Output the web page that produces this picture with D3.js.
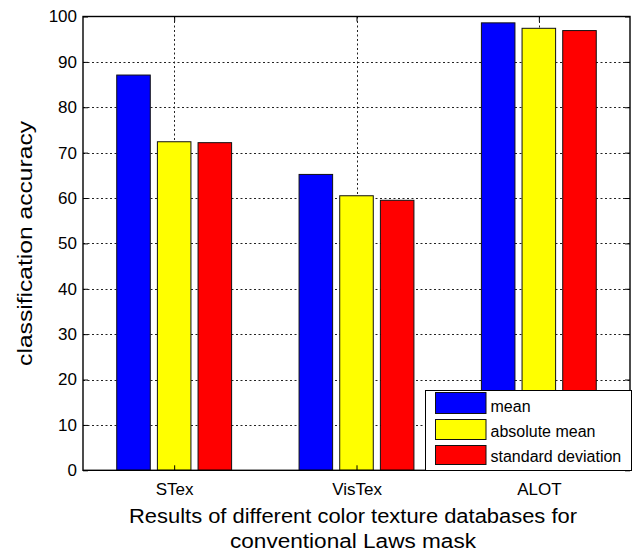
<!DOCTYPE html>
<html><head><meta charset="utf-8">
<script src="https://cdn.jsdelivr.net/npm/d3@7"></script>
<style>body{margin:0;background:#fff}svg{display:block}text{font-family:"Liberation Sans",Arial,Helvetica,sans-serif;fill:#000}</style>
</head><body><svg id="c" width="634" height="554"></svg>
<script>
const categories = ["STex", "VisTex", "ALOT"];
const seriesNames = ["mean", "absolute mean", "standard deviation"];
const seriesColors = ["#0000ff", "#ffff00", "#ff0000"];
const meanValues = [87.1, 65.2, 98.6];
const absMeanValues = [72.4, 60.5, 97.4];
const stdValues = [72.2, 59.5, 96.9];
const yTicks = [0, 10, 20, 30, 40, 50, 60, 70, 80, 90, 100];
const xTitle = ["Results of different color texture databases for", "conventional Laws mask"];
const yTitle = "classification accuracy";

const series = [meanValues, absMeanValues, stdValues];
const svg = d3.select("#c");
const L = 83, R = 630, T = 16.5, B = 470.3;
const x = d3.scaleLinear().domain([0.5, 3.5]).range([L, R]);
const y = d3.scaleLinear().domain([0, 100]).range([B, T]);
const unit = x(1) - x(0);
const bw = unit * 0.184, step = unit * 0.223;

// grid
const g = svg.append("g");
g.selectAll(".gy").data(yTicks.filter(d => d > 0 && d < 100)).join("line")
  .attr("x1", L).attr("x2", R).attr("y1", d => Math.round(y(d)) + 0.5).attr("y2", d => Math.round(y(d)) + 0.5)
  .attr("stroke", "#222").attr("stroke-width", 1).attr("stroke-dasharray", "2,2.5");
g.selectAll(".gx").data(categories).join("line")
  .attr("x1", (d, i) => Math.round(x(i + 1)) + 0.5).attr("x2", (d, i) => Math.round(x(i + 1)) + 0.5).attr("y1", T).attr("y2", B)
  .attr("stroke", "#222").attr("stroke-width", 1).attr("stroke-dasharray", "2,2.5");

// bars
series.forEach((vals, s) => {
  svg.append("g").selectAll("rect").data(vals).join("rect")
    .attr("x", (d, i) => x(i + 1) + (s - 1) * step - bw / 2)
    .attr("width", bw)
    .attr("y", d => y(d))
    .attr("height", d => y(0) - y(d))
    .attr("fill", seriesColors[s]).attr("stroke", "#111").attr("stroke-width", 1);
});

// axes box
svg.append("rect").attr("x", L).attr("y", T).attr("width", R - L).attr("height", B - T)
  .attr("fill", "none").attr("stroke", "#000").attr("stroke-width", 1.4);

const yAxis = d3.axisLeft(y).tickValues(yTicks).tickSize(-5).tickPadding(6).tickFormat(d3.format("d"));
const ya = svg.append("g").attr("transform", `translate(${L},0)`).call(yAxis);
ya.select(".domain").remove();
ya.selectAll("text").attr("font-size", 17);
const yr = svg.append("g").attr("transform", `translate(${R},0)`).call(d3.axisRight(y).tickValues(yTicks).tickSize(-5).tickFormat(""));
yr.select(".domain").remove();

const xAxis = d3.axisBottom(x).tickValues([1, 2, 3]).tickSize(-5).tickPadding(12.5).tickFormat((d) => categories[d - 1]);
const xa = svg.append("g").attr("transform", `translate(0,${B})`).call(xAxis);
xa.select(".domain").remove();
xa.selectAll("text").attr("font-size", 17);
const xt = svg.append("g").attr("transform", `translate(0,${T})`).call(d3.axisTop(x).tickValues([1, 2, 3]).tickSize(-5).tickFormat(""));
xt.select(".domain").remove();

// titles
svg.append("text").attr("x", 353).attr("y", 522.5).attr("text-anchor", "middle").attr("font-size", 20)
  .attr("textLength", 448).attr("lengthAdjust", "spacingAndGlyphs").text(xTitle[0]);
svg.append("text").attr("x", 353).attr("y", 548).attr("text-anchor", "middle").attr("font-size", 20)
  .attr("textLength", 246).attr("lengthAdjust", "spacingAndGlyphs").text(xTitle[1]);
svg.append("text").attr("transform", `translate(31.5,${(T + B) / 2}) rotate(-90)`).attr("text-anchor", "middle").attr("font-size", 20)
  .attr("textLength", 245).attr("lengthAdjust", "spacingAndGlyphs").text(yTitle);

// legend
const lg = svg.append("g");
lg.append("rect").attr("x", 425.5).attr("y", 390.5).attr("width", 206).attr("height", 80)
  .attr("fill", "#fff").attr("stroke", "#000").attr("stroke-width", 1);
const sw = [[392.5, 21], [419.5, 20], [445.5, 19]];
const base = [411.7, 436.7, 461.7];
seriesNames.forEach((n, i) => {
  lg.append("rect").attr("x", 435.5).attr("y", sw[i][0]).attr("width", 50.5).attr("height", sw[i][1])
    .attr("fill", seriesColors[i]).attr("stroke", "#111").attr("stroke-width", 1);
  lg.append("text").attr("x", 490.5).attr("y", base[i]).attr("font-size", 16).text(n);
});
</script></body></html>
